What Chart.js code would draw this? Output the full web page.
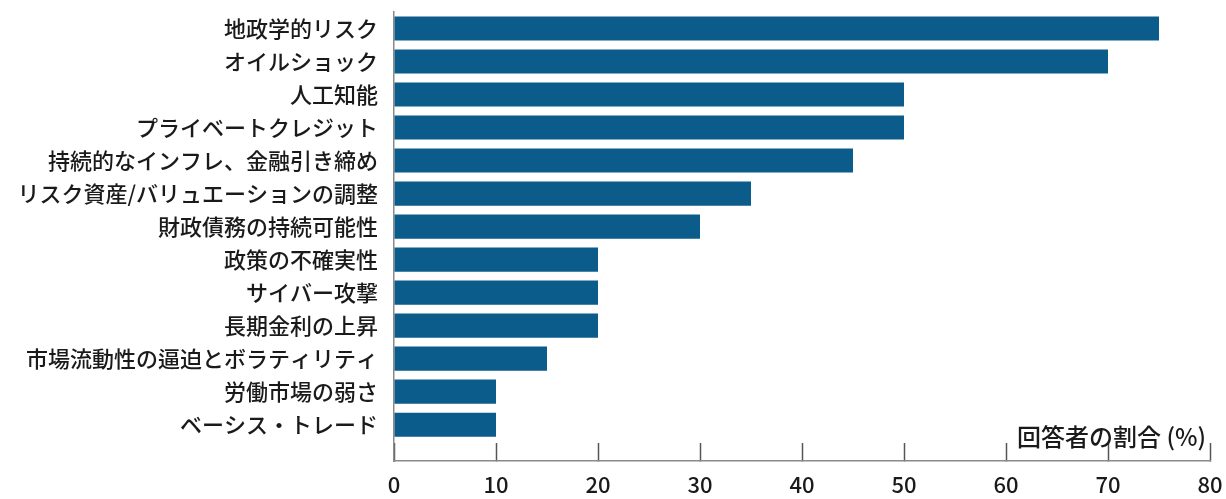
<!DOCTYPE html>
<html>
<head>
<meta charset="utf-8">
<script src="https://cdn.jsdelivr.net/npm/chart.js@4"></script>
<style>
    html, body { margin: 0; padding: 0; background: #fff; }
    #wrap { width: 1226px; height: 499px; }
</style>
</head>
<body>
<div id="wrap"><canvas id="riskChart"></canvas></div>
<script>
    const categories = [
        '地政学的リスク',
        'オイルショック',
        '人工知能',
        'プライベートクレジット',
        '持続的なインフレ、金融引き締め',
        'リスク資産/バリュエーションの調整',
        '財政債務の持続可能性',
        '政策の不確実性',
        'サイバー攻撃',
        '長期金利の上昇',
        '市場流動性の逼迫とボラティリティ',
        '労働市場の弱さ',
        'ベーシス・トレード'
    ];
    const shares = [75, 70, 50, 50, 45, 35, 30, 20, 20, 20, 15, 10, 10];
    const xTicks = [0, 10, 20, 30, 40, 50, 60, 70, 80];
    const axisTitle = '回答者の割合 (%)';

    const FONT = '"Noto Sans CJK JP", "Noto Sans", sans-serif';
    const AXIS = '#8a8a8a';
    const TEXT = '#1a1a1a';

    // unit label sitting inside the plot, bottom right
    const unitLabel = {
        id: 'unitLabel',
        afterDraw(chart) {
            const { ctx, chartArea } = chart;
            ctx.save();
            ctx.font = '500 24px ' + FONT;
            ctx.fillStyle = TEXT;
            ctx.textAlign = 'right';
            ctx.textBaseline = 'middle';
            ctx.fillText(axisTitle, chartArea.right - 4, chartArea.bottom - 24);
            ctx.restore();
        }
    };

    const ctx = document.getElementById('riskChart').getContext('2d');
    new Chart(ctx, {
        type: 'bar',
        data: {
            datasets: [{
                data: shares.map((v, i) => ({ x: v, y: i })),
                backgroundColor: '#0b5b8b',
                borderWidth: 0,
                barPercentage: 0.73,
                categoryPercentage: 1
            }]
        },
        options: {
            indexAxis: 'y',
            responsive: true,
            maintainAspectRatio: false,
            animation: false,
            layout: { padding: { top: 12, right: 16, bottom: 0, left: 0 } },
            plugins: {
                legend: { display: false },
                tooltip: { enabled: false }
            },
            scales: {
                x: {
                    type: 'linear',
                    min: 0,
                    max: 80,
                    afterBuildTicks: scale => { scale.ticks = xTicks.map(v => ({ value: v })); },
                    afterFit: scale => {
                        scale.height = 38;
                        scale.paddingLeft = 0;
                        scale.paddingRight = 0;
                    },
                    grid: {
                        drawOnChartArea: false,
                        drawTicks: true,
                        tickLength: -18,
                        tickColor: '#555',
                        tickWidth: 1.5
                    },
                    border: { display: true, color: AXIS, width: 1.5 },
                    ticks: {
                        color: TEXT,
                        padding: 28,
                        font: { family: FONT, size: 22, weight: 500 }
                    }
                },
                y: {
                    type: 'linear',
                    reverse: true,
                    offset: false,
                    bounds: 'data',
                    min: -0.5,
                    max: 13.1,
                    afterBuildTicks: scale => { scale.ticks = categories.map((c, i) => ({ value: i })); },
                    afterFit: scale => {
                        scale.width = 394;
                        scale.paddingTop = 0;
                        scale.paddingBottom = 0;
                    },
                    grid: { display: false, drawTicks: false, offset: false },
                    border: { display: true, color: AXIS, width: 1.5 },
                    ticks: {
                        autoSkip: false,
                        padding: 16,
                        color: TEXT,
                        font: { family: FONT, size: 22, weight: 500 },
                        callback: v => categories[v] !== undefined ? categories[v] : ''
                    }
                }
            }
        },
        plugins: [unitLabel]
    });
</script>
</body>
</html>
